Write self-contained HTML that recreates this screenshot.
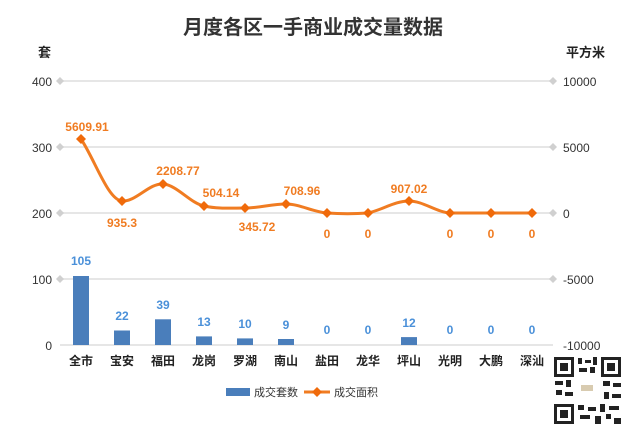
<!DOCTYPE html>
<html><head><meta charset="utf-8"><style>
body{margin:0;background:#fff;}
svg text{font-family:"Liberation Sans","Noto Sans CJK SC",sans-serif;}
</style></head><body>
<svg width="626" height="429" viewBox="0 0 626 429" xmlns="http://www.w3.org/2000/svg">
<rect width="626" height="429" fill="#fff"/>
<text x="313" y="34" text-anchor="middle" font-size="20" font-weight="bold" fill="#333">月度各区一手商业成交量数据</text>
<text x="38" y="57" font-size="13" font-weight="bold" fill="#222">套</text>
<text x="566" y="57" font-size="13" font-weight="bold" fill="#222">平方米</text>
<g stroke="#e6e6e6" stroke-width="2">
<line x1="60" y1="81" x2="553" y2="81"/><line x1="60" y1="147" x2="553" y2="147"/>
<line x1="60" y1="213" x2="553" y2="213"/><line x1="60" y1="279" x2="553" y2="279"/>
<line x1="60" y1="345" x2="553" y2="345"/>
</g>
<g fill="#d0d0d0">
<path d="M60 77l4 4-4 4-4-4z"/><path d="M60 143l4 4-4 4-4-4z"/><path d="M60 209l4 4-4 4-4-4z"/><path d="M60 275l4 4-4 4-4-4z"/>
<path d="M553 77l4 4-4 4-4-4z"/><path d="M553 143l4 4-4 4-4-4z"/><path d="M553 209l4 4-4 4-4-4z"/><path d="M553 275l4 4-4 4-4-4z"/>
</g>
<g font-size="12" fill="#333" text-anchor="end">
<text x="52" y="86">400</text><text x="52" y="152">300</text><text x="52" y="218">200</text><text x="52" y="284">100</text><text x="52" y="350">0</text>
</g>
<g font-size="12" fill="#333">
<text x="563" y="86">10000</text><text x="563" y="152">5000</text><text x="563" y="218">0</text><text x="563" y="284">-5000</text><text x="563" y="350">-10000</text>
</g>
<g fill="#4a7ebb">
<rect x="73" y="276" width="16" height="69"/>
<rect x="114" y="330.5" width="16" height="14.5"/>
<rect x="155" y="319.3" width="16" height="25.7"/>
<rect x="196" y="336.4" width="16" height="8.6"/>
<rect x="237" y="338.4" width="16" height="6.6"/>
<rect x="278" y="339" width="16" height="6"/>
<rect x="401" y="337.1" width="16" height="7.9"/>
</g>
<g font-size="12" font-weight="bold" fill="#4a90d9" text-anchor="middle">
<text x="81" y="265">105</text><text x="122" y="320">22</text><text x="163" y="309">39</text><text x="204" y="326">13</text>
<text x="245" y="328">10</text><text x="286" y="329">9</text><text x="327" y="334">0</text><text x="368" y="334">0</text>
<text x="409" y="327">12</text><text x="450" y="334">0</text><text x="491" y="334">0</text><text x="532" y="334">0</text>
</g>
<path d="M81 139 C95 160,108 200,122 201 C136 202,149 183,163 184 C177 185,190 203,204 206 C218 209,231 208,245 208 C259 208,272 204,286 204 C300 204,313 212,327 213 C341 214,354 214,368 213 C382 210,395 201,409 201 C423 201,436 212,450 213 L532 213" fill="none" stroke="#f07c22" stroke-width="3"/>
<g fill="#f06a0a">
<path d="M81 134l5 5-5 5-5-5z"/><path d="M122 196l5 5-5 5-5-5z"/><path d="M163 179l5 5-5 5-5-5z"/><path d="M204 201l5 5-5 5-5-5z"/>
<path d="M245 203l5 5-5 5-5-5z"/><path d="M286 199l5 5-5 5-5-5z"/><path d="M327 208l5 5-5 5-5-5z"/><path d="M368 208l5 5-5 5-5-5z"/>
<path d="M409 196l5 5-5 5-5-5z"/><path d="M450 208l5 5-5 5-5-5z"/><path d="M491 208l5 5-5 5-5-5z"/><path d="M532 208l5 5-5 5-5-5z"/>
</g>
<g font-size="12" font-weight="bold" fill="#f07c22" text-anchor="middle">
<text x="87" y="131">5609.91</text><text x="122" y="227">935.3</text><text x="178" y="175">2208.77</text><text x="221" y="197">504.14</text>
<text x="257" y="231">345.72</text><text x="302" y="195">708.96</text><text x="327" y="238">0</text><text x="368" y="238">0</text>
<text x="409" y="193">907.02</text><text x="450" y="238">0</text><text x="491" y="238">0</text><text x="532" y="238">0</text>
</g>
<g font-size="12" fill="#222" text-anchor="middle" font-weight="bold">
<text x="81" y="365">全市</text><text x="122" y="365">宝安</text><text x="163" y="365">福田</text><text x="204" y="365">龙岗</text>
<text x="245" y="365">罗湖</text><text x="286" y="365">南山</text><text x="327" y="365">盐田</text><text x="368" y="365">龙华</text>
<text x="409" y="365">坪山</text><text x="450" y="365">光明</text><text x="491" y="365">大鹏</text><text x="532" y="365">深汕</text>
</g>
<rect x="226" y="388" width="24" height="8" fill="#4a7ebb"/>
<text x="254" y="396" font-size="11" fill="#333">成交套数</text>
<line x1="304" y1="392" x2="330" y2="392" stroke="#f07c22" stroke-width="3"/>
<path d="M317 387l5 5-5 5-5-5z" fill="#f06a0a"/>
<text x="334" y="396" font-size="11" fill="#333">成交面积</text>
<g fill="#222">
<rect x="553" y="356" width="69" height="69" fill="#fff"/>
<rect x="554" y="357" width="20" height="20"/><rect x="557" y="360" width="14" height="14" fill="#fff"/><rect x="560" y="363" width="8" height="8"/>
<rect x="601" y="357" width="20" height="20"/><rect x="604" y="360" width="14" height="14" fill="#fff"/><rect x="607" y="363" width="8" height="8"/>
<rect x="554" y="404" width="20" height="20"/><rect x="557" y="407" width="14" height="14" fill="#fff"/><rect x="560" y="410" width="8" height="8"/>
<rect x="578" y="358" width="4" height="6"/><rect x="585" y="360" width="6" height="3"/><rect x="593" y="357" width="4" height="8"/>
<rect x="579" y="368" width="8" height="4"/><rect x="590" y="367" width="5" height="6"/>
<rect x="555" y="381" width="8" height="4"/><rect x="566" y="380" width="5" height="7"/><rect x="556" y="390" width="6" height="5"/>
<rect x="565" y="392" width="8" height="4"/><rect x="603" y="381" width="7" height="5"/><rect x="613" y="383" width="8" height="4"/>
<rect x="604" y="392" width="5" height="7"/><rect x="612" y="394" width="9" height="4"/><rect x="578" y="405" width="6" height="5"/>
<rect x="588" y="407" width="8" height="4"/><rect x="600" y="404" width="5" height="8"/><rect x="609" y="406" width="10" height="4"/>
<rect x="580" y="415" width="10" height="4"/><rect x="595" y="416" width="6" height="8"/><rect x="606" y="414" width="5" height="5"/><rect x="614" y="418" width="7" height="6"/>
<rect x="576" y="379" width="22" height="20" fill="#fff"/><rect x="581" y="385" width="12" height="6" fill="#d8cbb0"/>
</g>
</svg>
</body></html>
